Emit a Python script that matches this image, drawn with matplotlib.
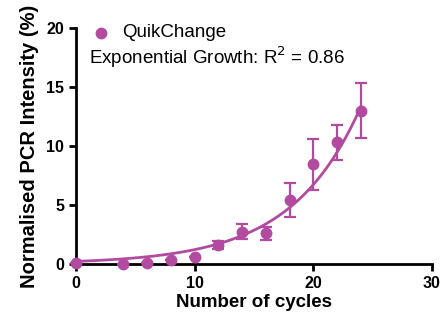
import numpy as np
import matplotlib
matplotlib.use("Agg")
import matplotlib.pyplot as plt

plt.rcParams['font.family'] = ['Liberation Sans', 'DejaVu Sans']

# mean intensity (%) per cycle number, with upper/lower error bar ends
cycles = [0, 4, 6, 8, 10, 12, 14, 16, 18, 20, 22, 24]
intensity = [0.1, 0.0, 0.05, 0.3, 0.6, 1.6, 2.75, 2.65, 5.45, 8.45, 10.3, 13.0]
err_hi = [0.1, 0.0, 0.05, 0.3, 0.6, 1.95, 3.4, 3.1, 6.9, 10.6, 11.8, 15.3]
err_lo = [0.1, 0.0, 0.05, 0.3, 0.6, 1.3, 2.1, 2.0, 4.0, 6.3, 8.85, 10.7]

# exponential growth fit: Y = y0 * exp(k * x)
fit_y0 = 0.22
fit_k = 0.171

col = '#b24a9f'

fig = plt.figure(figsize=(4.44, 3.2), dpi=100)
ax = fig.add_axes([0.171, 0.175, 0.802, 0.7375])

yerr = [np.array(intensity) - np.array(err_lo), np.array(err_hi) - np.array(intensity)]
ax.errorbar(cycles, intensity, yerr=yerr, fmt='o', color=col, ms=7.5, capsize=4,
            elinewidth=1.6, capthick=1.6, clip_on=False, zorder=5)

xs = np.linspace(0, 24, 200)
ax.plot(xs, fit_y0 * np.exp(fit_k * xs), color=col, lw=2.0, clip_on=False, zorder=4)

ax.set_xlim(0, 30)
ax.set_ylim(0, 20)
ax.set_xticks([0, 10, 20, 30])
ax.set_yticks([0, 5, 10, 15, 20])
for s in ['top', 'right']:
    ax.spines[s].set_visible(False)
for s in ['left', 'bottom']:
    ax.spines[s].set_linewidth(2.0)
ax.tick_params(width=2.0, length=5, labelsize=11.5)
for lab in ax.get_xticklabels() + ax.get_yticklabels():
    lab.set_fontweight('bold')

ax.set_xlabel('Number of cycles', fontsize=13.5, fontweight='bold', labelpad=2)
ax.set_ylabel('Normalised PCR Intensity (%)', fontsize=14.5, fontweight='bold', labelpad=5)

ax.plot([2.1], [19.6], 'o', color=col, ms=7.5, clip_on=False)
ax.text(3.9, 19.6, 'QuikChange', fontsize=13.5, va='center', ha='left')
ax.text(1.1, 17.55, 'Exponential Growth: R$^2$ = 0.86', fontsize=13.5, va='center', ha='left')

fig.savefig('out.png', dpi=100)
